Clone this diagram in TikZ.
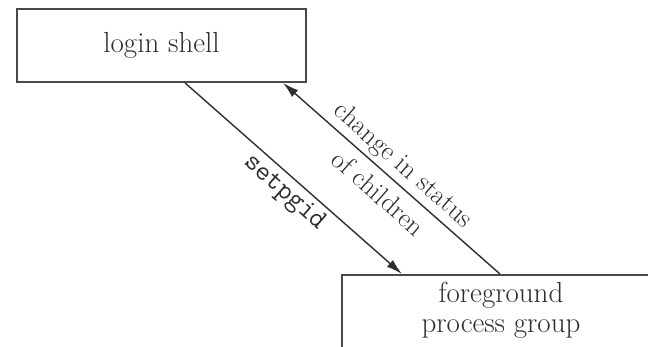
\documentclass[tikz,border=0pt]{standalone}
\usetikzlibrary{arrows.meta}
\definecolor{ink}{HTML}{2E2E2E}
\definecolor{frame}{HTML}{4A4A4A}
\begin{document}
\begin{tikzpicture}[x=1pt,y=-1pt,
  procbox/.style={draw=frame,line width=1.8pt,fill=white,inner sep=0pt,
    font=\fontsize{29}{30}\selectfont,text=ink,align=center},
  flow/.style={draw=ink,line width=1.4pt,-{Latex[length=16pt,width=9pt]}},
  lbl/.style={text=ink,inner sep=0pt,align=center,sloped},
]
\useasboundingbox (0,0) rectangle (648,346);
\clip (0,0) rectangle (648,346);
\fill[white] (0,0) rectangle (648,346);

% the two processes
\node[procbox,minimum width=289pt,minimum height=73pt] (login) at (161.5,45.5) {login shell};
\node[procbox,minimum width=318pt,minimum height=120pt,anchor=north] (fg) at (501,274) {};
\node[font=\fontsize{29}{30}\selectfont,text=ink,align=center,inner sep=0pt,anchor=north] (fgtext) at (501,282)
  {foreground\\process group};

% attachment points on the box edges
\coordinate (l1) at (login.south west -| 185,0);
\coordinate (l2) at (login.south west -| 283,0);
\coordinate (f1) at (fg.north west -| 402,0);
\coordinate (f2) at (fg.north west -| 500,0);

% shell puts the job into the foreground
\draw[flow] (l1) -- node[lbl,pos=0.51,yshift=-17pt,font=\ttfamily\fontsize{28}{30}\selectfont] {setpgid} (f1);
% children report back to the shell
\draw[flow] (f2) -- node[lbl,pos=0.5,font=\fontsize{27}{39}\selectfont] {change in status\\of children} (l2);
\end{tikzpicture}
\end{document}
